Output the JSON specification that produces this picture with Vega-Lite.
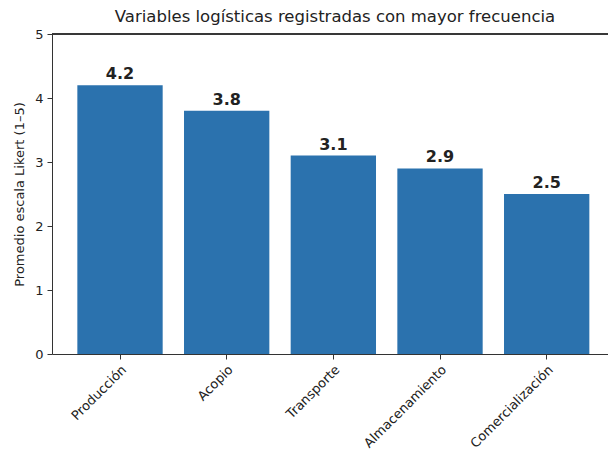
{
  "$schema": "https://vega.github.io/schema/vega-lite/v6.json",
  "autosize": {"type": "none"},
  "width": 556,
  "height": 320,
  "padding": {"left": 52, "top": 34, "right": 0, "bottom": 98},
  "background": "white",
  "config": {
    "font": "DejaVu Sans",
    "view": {"stroke": null},
    "axis": {"grid": false, "domainColor": "#333333", "tickColor": "#333333", "labelColor": "#222222", "titleColor": "#222222", "labelFontSize": 13, "tickSize": 5, "labelPadding": 4, "titleFontWeight": "normal"}
  },
  "title": {"text": "Variables logísticas registradas con mayor frecuencia", "fontSize": 16.5, "fontWeight": "normal", "color": "#222222", "offset": 3, "dx": 5},
  "data": {"values": [
    {"variable": "Producción", "valor": 4.2},
    {"variable": "Acopio", "valor": 3.8},
    {"variable": "Transporte", "valor": 3.1},
    {"variable": "Almacenamiento", "valor": 2.9},
    {"variable": "Comercialización", "valor": 2.5}
  ]},
  "encoding": {
    "x": {"field": "variable", "type": "nominal", "sort": null,
      "scale": {"paddingInner": 0.2, "paddingOuter": 0.20625, "align": 0.576},
      "axis": {"title": null, "labelAngle": -45, "labelFontSize": 13, "labelPadding": 4}},
    "y": {"field": "valor", "type": "quantitative",
      "scale": {"domain": [0, 5], "nice": false},
      "axis": {"title": "Promedio escala Likert (1–5)", "titleFontSize": 13, "values": [0, 1, 2, 3, 4, 5], "format": "d", "titlePadding": 8}}
  },
  "layer": [
    {"mark": {"type": "bar", "color": "#2b72ae"}},
    {"mark": {"type": "text", "baseline": "bottom", "dy": -3, "fontSize": 16, "fontWeight": "bold", "color": "#222222"},
      "encoding": {"text": {"field": "valor", "type": "quantitative", "format": ".1f"}}},
    {"mark": {"type": "rule", "color": "#333333", "strokeWidth": 1},
      "encoding": {"y": {"datum": 5}, "x": null}}
  ]
}
